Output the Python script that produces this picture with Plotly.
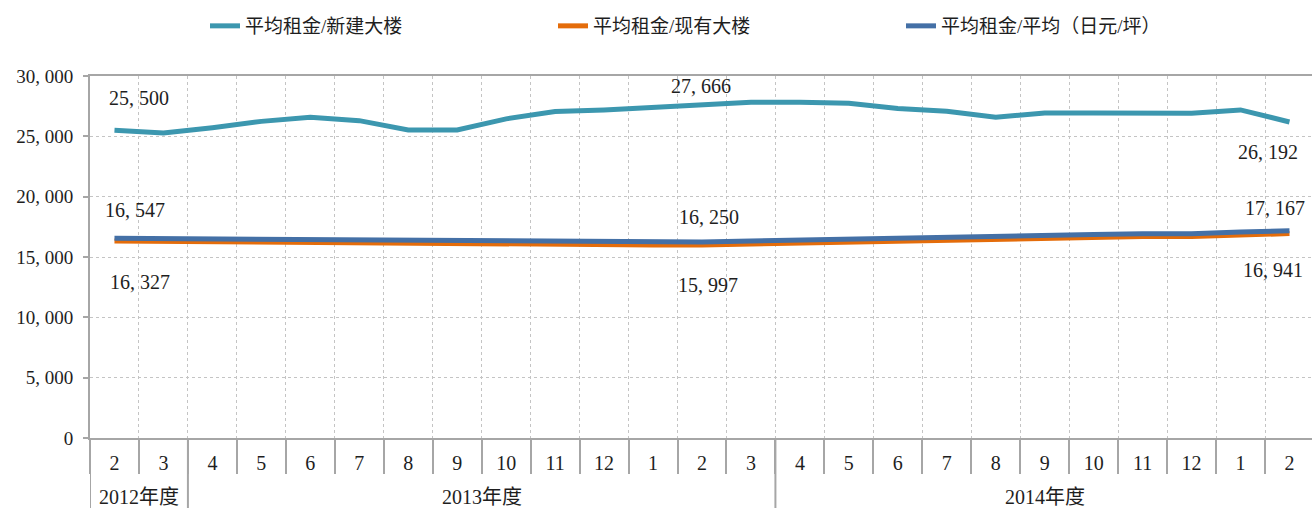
import plotly.graph_objects as go

# ---- data ----
months = ["2", "3", "4", "5", "6", "7", "8", "9", "10", "11", "12", "1", "2", "3",
          "4", "5", "6", "7", "8", "9", "10", "11", "12", "1", "2"]
years = ["2012年度", "2013年度", "2014年度"]
year_counts = [2, 12, 11]

new_bldg = [25500, 25280, 25720, 26240, 26580, 26300, 25530, 25530, 26450, 27050,
            27190, 27410, 27666, 27820, 27820, 27740, 27300, 27070, 26580, 26940,
            26940, 26920, 26920, 27190, 26192]
existing = [16327, 16290, 16280, 16260, 16240, 16180, 16120, 16080, 16040, 16030,
            16020, 16000, 15997, 16080, 16170, 16250, 16330, 16390, 16450, 16530,
            16640, 16690, 16690, 16830, 16941]
average = [16547, 16520, 16500, 16490, 16470, 16400, 16350, 16310, 16280, 16270,
           16260, 16250, 16250, 16330, 16420, 16500, 16580, 16640, 16700, 16780,
           16870, 16920, 16920, 17080, 17167]

names = ["平均租金/新建大楼", "平均租金/现有大楼", "平均租金/平均（日元/坪）"]
colors = ["#3C97AF", "#E46C0A", "#4470A6"]
y_ticks = [0, 5000, 10000, 15000, 20000, 25000, 30000]

FONT = "Liberation Serif, Noto Sans CJK SC, serif"
GRID = "#C4C4C4"
AXIS = "#A6A6A6"
TXT = "#1E1E1E"


def fmt(v):
    return f"{v:,}".replace(",", ", ")


x = list(range(len(months)))
series = [new_bldg, existing, average]

fig = go.Figure()
for s, n, c in zip(series, names, colors):
    fig.add_trace(go.Scatter(x=x, y=s, name=n, mode="lines",
                             line=dict(color=c, width=5)))

# data labels: (series index, point index, xshift, yshift)
labels = [(0, 0, 25, 32), (0, 12, -1, 18), (0, 24, -21, -30),
          (2, 0, 21, 28), (2, 12, 7, 25), (2, 24, -14, 23),
          (1, 0, 26, -41), (1, 12, 6, -40), (1, 24, -16, -36)]
for si, pi, dx, dy in labels:
    fig.add_annotation(x=pi, y=series[si][pi], text=fmt(series[si][pi]),
                       showarrow=False, xshift=dx, yshift=dy,
                       font=dict(family=FONT, size=20, color=TXT))

# year group labels and separators
plot_h = 508 - 76 - 70
start = -0.5
bounds = [start]
for name, cnt in zip(years, year_counts):
    end = start + cnt
    fig.add_annotation(x=(start + end) / 2, y=-59 / plot_h, xref="x", yref="paper",
                       text=name, showarrow=False, yanchor="middle",
                       font=dict(family=FONT, size=20, color=TXT))
    bounds.append(end)
    start = end
for b in bounds:
    fig.add_shape(type="line", x0=b, x1=b, xref="x", yref="paper",
                  y0=0, y1=-70 / plot_h, line=dict(color=AXIS, width=2))

fig.update_layout(
    width=1312, height=508,
    margin=dict(l=90, r=0, t=76, b=70),
    paper_bgcolor="white", plot_bgcolor="white",
    font=dict(family=FONT, size=18, color=TXT),
    showlegend=True,
    legend=dict(orientation="h", xref="container", yref="container",
                x=205 / 1312, y=1 - 26 / 508, xanchor="left", yanchor="middle",
                entrywidth=303, entrywidthmode="pixels",
                font=dict(family=FONT, size=19, color=TXT)),
)

fig.update_xaxes(
    range=[-0.5, 24.46], tickmode="array", tickvals=x, ticktext=months,
    ticks="", showgrid=False, zeroline=False,
    showline=True, linecolor=AXIS, linewidth=2, mirror=True,
    ticklabelstandoff=6,
    tickfont=dict(family=FONT, size=20, color=TXT),
    minor=dict(tick0=0.5, dtick=1, ticks="outside", ticklen=34, tickwidth=2,
               tickcolor=AXIS, showgrid=True, gridcolor=GRID, gridwidth=1,
               griddash="dot"),
)
fig.update_yaxes(
    range=[0, 30000], tickmode="array", tickvals=y_ticks,
    ticktext=[fmt(v) for v in y_ticks],
    ticks="outside", ticklen=5, tickwidth=2, tickcolor=AXIS,
    showline=True, linecolor=AXIS, linewidth=2, zeroline=False,
    showgrid=True, gridcolor=GRID, gridwidth=1, griddash="dot",
    ticklabelstandoff=6,
    tickfont=dict(family=FONT, size=19, color=TXT),
)

fig.write_html("out.html",
               config={"displayModeBar": False},
               post_script="document.body.style.margin='0';"
                           "document.body.style.overflow='hidden';")
